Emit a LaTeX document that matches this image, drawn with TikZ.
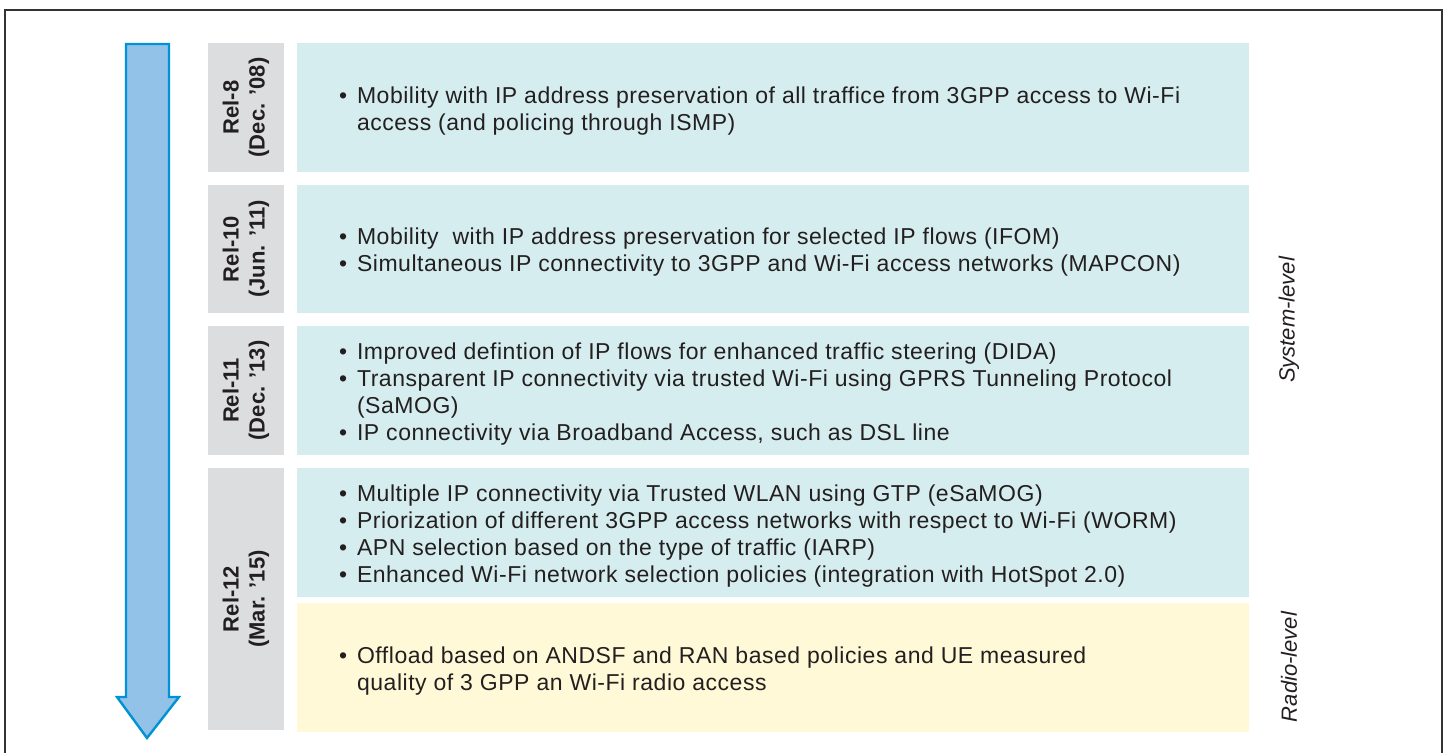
\documentclass[tikz,border=0pt]{standalone}
\usepackage{fontspec}
\setmainfont{Liberation Sans}
\newfontfamily\itemfont[LetterSpace=2.3]{Liberation Sans}
\usetikzlibrary{positioning}
\definecolor{relgray}{RGB}{220,221,223}
\definecolor{syscyan}{RGB}{213,237,238}
\definecolor{radioyellow}{RGB}{255,249,215}
\definecolor{arrowfill}{RGB}{146,194,232}
\definecolor{arrowdraw}{RGB}{0,146,212}
\definecolor{textdark}{RGB}{35,31,32}
\newcommand{\relitems}[1]{%
    \begin{tabular}{@{}l@{\hspace{5pt}}l@{}}#1\end{tabular}}
\tikzset{
    relnode/.style = {
        rotate=90,
        align=center,
        inner sep=0pt,
        fill=relgray,
        text=textdark,
        font=\fontsize{11}{13}\selectfont\bfseries,
        minimum height=38pt
    },
    featbox/.style = {
        rectangle,
        inner sep=0pt,
        fill=syscyan,
        minimum width=476pt
    },
    radiobox/.style = {
        featbox,
        fill=radioyellow
    },
    itemtext/.style = {
        inner sep=0pt,
        align=left,
        yshift=-2pt,
        text=textdark,
        font=\itemfont\fontsize{11.5}{13.5}\selectfont
    },
    levellabel/.style = {
        rotate=90,
        inner sep=0pt,
        text=textdark,
        font=\fontsize{11}{13}\selectfont\itshape
    }
}
\begin{document}
\begin{tikzpicture}[x=0.5pt,y=-0.5pt]
    \useasboundingbox (0,0) rectangle (1449,753);
    % frame
    \draw[line width=1.2pt, black!80] (5,753) -- (5,10) -- (1442,10) -- (1442,753);

    % time arrow
    \draw[fill=arrowfill, draw=arrowdraw, line width=1.2pt, line join=miter]
        (126,44) -- (169,44) -- (169,697) -- (179,697) -- (147,738)
        -- (117,697) -- (126,697) -- cycle;

    % releases
    \node[relnode, minimum width=64.5pt] (rel8) at (246,107.5) {Rel-8\\(Dec. '08)};
    \node[relnode, minimum width=64pt] (rel10) at (246,249) {Rel-10\\(Jun. '11)};
    \node[relnode, minimum width=64.5pt] (rel11) at (246,390.5) {Rel-11\\(Dec. '13)};
    \node[relnode, minimum width=131pt] (rel12) at (246,599) {Rel-12\\(Mar. '15)};

    % feature boxes
    \node[featbox, minimum height=64.5pt] (f8) at (773,107.5) {};
    \node[featbox, minimum height=64pt] (f10) at (773,249) {};
    \node[featbox, minimum height=64.5pt] (f11) at (773,390.5) {};
    \node[featbox, minimum height=64.5pt] (f12) at (773,532.5) {};
    \node[radiobox, minimum height=64.5pt] (r12) at (773,667.5) {};

    \node[itemtext, right=21pt of f8.west] (t8) {\relitems{
        \textbullet & Mobility with IP address preservation of all traffice from 3GPP access to Wi-Fi\\
        & access (and policing through ISMP)}};
    \node[itemtext, right=21pt of f10.west] (t10) {\relitems{
        \textbullet & Mobility\ \ with IP address preservation for selected IP flows (IFOM)\\
        \textbullet & Simultaneous IP connectivity to 3GPP and Wi-Fi access networks (MAPCON)}};
    \node[itemtext, right=21pt of f11.west] (t11) {\relitems{
        \textbullet & Improved defintion of IP flows for enhanced traffic steering (DIDA)\\
        \textbullet & Transparent IP connectivity via trusted Wi-Fi using GPRS Tunneling Protocol\\
        & (SaMOG)\\
        \textbullet & IP connectivity via Broadband Access, such as DSL line}};
    \node[itemtext, right=21pt of f12.west] (t12) {\relitems{
        \textbullet & Multiple IP connectivity via Trusted WLAN using GTP (eSaMOG)\\
        \textbullet & Priorization of different 3GPP access networks with respect to Wi-Fi (WORM)\\
        \textbullet & APN selection based on the type of traffic (IARP)\\
        \textbullet & Enhanced Wi-Fi network selection policies (integration with HotSpot 2.0)}};
    \node[itemtext, right=21pt of r12.west] (tr12) {\relitems{
        \textbullet & Offload based on ANDSF and RAN based policies and UE measured\\
        & quality of 3 GPP an Wi-Fi radio access}};

    % levels
    \node[levellabel] (syslevel) at (1289,320) {System-level};
    \node[levellabel] (radiolevel) at (1289,667) {Radio-level};
\end{tikzpicture}
\end{document}
